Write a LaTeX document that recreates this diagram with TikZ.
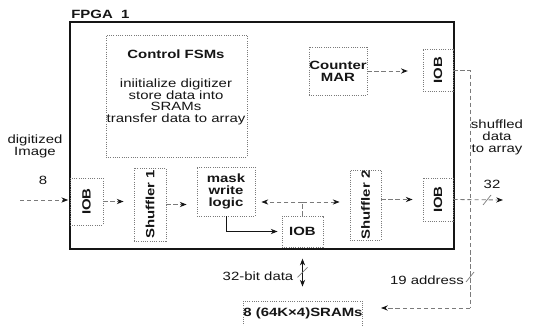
\documentclass[tikz,border=0pt]{standalone}
\usepackage{fontspec}
\setmainfont{Liberation Sans}[FakeStretch=1.25]
\usetikzlibrary{calc,positioning,arrows.meta}
\definecolor{ink}{HTML}{151515}
\definecolor{faded}{HTML}{7A7A7A}
\newcommand{\fsz}{\fontsize{8.5}{8.5}\selectfont}
\tikzset{
  blk/.style 2 args={draw=faded,densely dotted,line width=0.6pt,minimum width=#1,minimum height=#2,inner sep=0pt,align=center,font=\fsz\bfseries,text=ink},
  txt/.style={inner sep=0pt,align=center,font=\fsz,text=ink},
  flow/.style={-{Stealth[length=1.7mm,width=1.3mm,ink]},draw=faded,densely dashed,line width=0.6pt,shorten >=0.25cm},
  flow2/.style={{Stealth[length=1.7mm,width=1.3mm,ink]}-{Stealth[length=1.7mm,width=1.3mm,ink]},draw=ink,line width=0.6pt},
  wire/.style={draw=faded,densely dashed,line width=0.6pt},
  busmark/.style={draw=faded,line width=0.5pt},
}

\begin{document}
\begin{tikzpicture}[x=0.025cm,y=-0.025cm]
\useasboundingbox (0,0) rectangle (540,326);
% chip outline
\node[draw=ink,line width=1.2pt,minimum width=9.6cm,minimum height=5.675cm,inner sep=0pt] (fpga) at (262,135.5) {};
\node[txt,anchor=south west,font=\fsz\bfseries] (fpgalbl) at (71,19) {FPGA\ \ 1};
% control part
\node[blk={3.525cm}{3.05cm}] (ctrl) at (176.5,96) {};
\node[txt,anchor=north] (ctrltxt) at (176,50)
  {\textbf{Control FSMs}\\[11.5pt]iniitialize digitizer\\store data into\\SRAMs\\transfer data to array};
\node[blk={1.45cm}{1.2cm}] (mar) at (338,71) {Counter\\MAR};
\node[blk={0.75cm}{1.05cm}] (iob2) at (438,70) {\rotatebox{90}{IOB}};
% data path
\node[blk={0.825cm}{1.175cm}] (iob1) at (86.5,201.5) {\rotatebox{90}{IOB}};
\node[blk={0.8cm}{1.825cm}] (sh1) at (150,204.5) {\rotatebox{90}{Shuffler 1}};
\node[blk={1.45cm}{1.225cm}] (mask) at (226,191.5) {mask\\write\\logic};
\node[blk={1.025cm}{0.775cm}] (iob3) at (302.5,231.5) {IOB};
\node[blk={0.775cm}{1.75cm}] (sh2) at (365.5,205) {\rotatebox{90}{Shuffler 2}};
\node[blk={0.75cm}{1.075cm}] (iob4) at (438,199.5) {\rotatebox{90}{IOB}};
\node[blk={2.75cm}{0.625cm}] (sram) at (303,313.5) {8 (64K×4)SRAMs};
% outside labels
\node[txt] (inlbl) at (35,146) {digitized\\Image};
\node[txt] (in8) at (43,180) {8};
\node[txt] (outlbl) at (497,137) {shuffled\\data\\to array};
\node[txt] (out32) at (492,184) {32};
\node[txt] (buslbl) at (258,276) {32-bit data};
\node[txt] (addrlbl) at (427,280) {19 address};
\coordinate (in) at (20,200);
\coordinate (out) at (503,200);
\coordinate (jn) at (302.5,202);
\coordinate (corner) at (470,308);
% connectors
\draw[flow,shorten >=1pt] (in) -- (in -| iob1.west);
\draw[flow] (iob1.east) -- (iob1.east -| sh1.west);
\draw[flow] (sh1.east) -- (sh1.east -| mask.west);
\draw[wire] (iob3.north) -- (jn);
\draw[flow,shorten >=0.15cm] (jn) -- (jn -| mask.east);
\draw[flow] (jn) -- (jn -| sh2.west);
\draw[flow,draw=ink,solid,shorten >=0.1cm] (mask.south) -- (mask.south |- iob3.west) -- (iob3.west);
\draw[flow] (sh2.east |- iob4.west) -- (iob4.west);
\draw[flow,shorten >=0pt] (iob4.east) -- (out);
\draw[flow,shorten >=0.37cm] (mar.east) -- (mar.east -| iob2.west);
\draw[wire] (iob2.east) -- (iob2.east -| corner) -- (corner);
\draw[flow,shorten >=0.45cm] (corner) -- (corner -| sram.east);
\draw[flow2,shorten <=0.28cm,shorten >=0.35cm] (iob3.south) -- (iob3.south |- sram.north);
% bus width marks
\draw[busmark] ($(out)+(-20,5)$) -- ($(out)+(-12,-5)$);
\draw[busmark] ($(corner)+(-4,-26)$) -- ($(corner)+(4,-36)$);
\draw[busmark] ($(iob3.south)+(-5,30)$) -- ($(iob3.south)+(5,20)$);
\end{tikzpicture}
\end{document}
